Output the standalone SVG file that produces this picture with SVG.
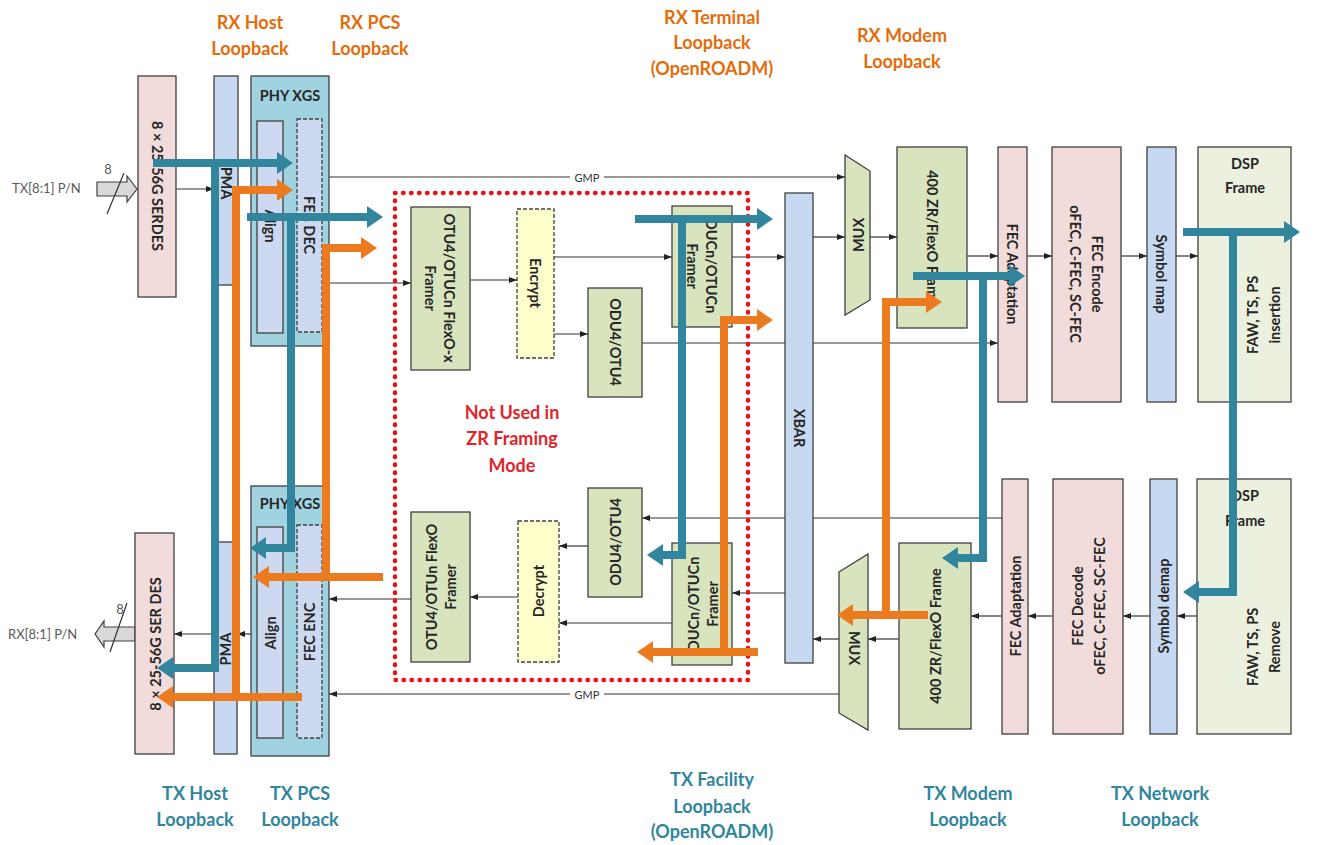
<svg xmlns="http://www.w3.org/2000/svg" width="1318" height="845" viewBox="0 0 1318 845">
<defs>
<style>
.bx{stroke:#404040;stroke-width:1.3}
.dsh{stroke-dasharray:4 2}
.pink{fill:#f2dcdb}.lb{fill:#c6d9f1}.lav{fill:#ccd9f0}.phy{fill:#a0d2e0}.grn{fill:#d7e4bd}.yel{fill:#ffffcc}.dsp{fill:#ebf1de}
.t{font-family:Lato,"Open Sans","Liberation Sans",sans-serif;font-weight:700;font-size:14.5px;fill:#262626;text-anchor:middle;dominant-baseline:central}
.lo{font-family:Lato,"Open Sans","Liberation Sans",sans-serif;font-weight:700;font-size:18px;fill:#e46c0a;text-anchor:middle;dominant-baseline:central}
.lt{font-family:Lato,"Open Sans","Liberation Sans",sans-serif;font-weight:700;font-size:18px;fill:#31859c;text-anchor:middle;dominant-baseline:central}
.nu{font-family:Lato,"Open Sans","Liberation Sans",sans-serif;font-weight:700;font-size:18px;fill:#e0252b;text-anchor:middle;dominant-baseline:central}
.sm{font-family:Lato,"Open Sans","Liberation Sans",sans-serif;font-size:13px;fill:#595959;dominant-baseline:central}
.gmp{font-family:Lato,"Open Sans","Liberation Sans",sans-serif;font-size:11px;fill:#333;text-anchor:middle;dominant-baseline:central}
.ln{stroke:#333;stroke-width:1.2;fill:none;marker-end:url(#a)}
.pl{stroke:#333;stroke-width:1.2;fill:none}
.blue{stroke:#31859c;stroke-width:8;fill:none;marker-end:url(#hb)}
.bl{stroke:#31859c;stroke-width:8;fill:none}
.org{stroke:#ec7a1e;stroke-width:8;fill:none;marker-end:url(#ho)}
.red{fill:none;stroke:#e8131a;stroke-width:4.5;stroke-dasharray:0.5 7.5;stroke-linecap:round}
</style>
<marker id="a" viewBox="0 0 8 6" refX="8" refY="3" markerWidth="8" markerHeight="6" markerUnits="userSpaceOnUse" orient="auto"><path d="M0,0 L8,3 L0,6 z" fill="#222"/></marker>
<marker id="hb" viewBox="0 0 16 22" refX="0" refY="11" markerWidth="16" markerHeight="22" markerUnits="userSpaceOnUse" orient="auto"><path d="M0,0 L16,11 L0,22 z" fill="#31859c"/></marker>
<marker id="ho" viewBox="0 0 16 22" refX="0" refY="11" markerWidth="16" markerHeight="22" markerUnits="userSpaceOnUse" orient="auto"><path d="M0,0 L16,11 L0,22 z" fill="#ec7a1e"/></marker>
</defs>
<rect width="1318" height="845" fill="#fff"/>

<g id="connectors">
<polygon points="97,182 127,182 127,176 137,189 127,202 127,196 97,196" fill="#d9d9d9" stroke="#404040" stroke-width="1.2"/>
<line x1="107" y1="214" x2="124" y2="173" class="pl"/>
<text x="108" y="169" class="sm" text-anchor="middle" font-size="12">8</text>
<text x="12" y="188" class="sm">TX[8:1] P/N</text>
<polygon points="135,627 104,627 104,621 95,634 104,647 104,641 135,641" fill="#d9d9d9" stroke="#404040" stroke-width="1.2"/>
<line x1="110" y1="652" x2="127" y2="603" class="pl"/>
<text x="120" y="609" class="sm" text-anchor="middle" font-size="12">8</text>
<text x="8" y="634" class="sm">RX[8:1] P/N</text>

<path d="M176,189 H214" class="ln"/>
<path d="M329,177 H845" class="ln"/>
<rect x="570" y="170" width="34" height="14" fill="#fff"/>
<text x="587" y="177" class="gmp">GMP</text>
<path d="M329,283 H411" class="ln"/>
<path d="M470,280 H517" class="ln"/>
<path d="M554,257 H672" class="ln"/>
<path d="M554,334 H588" class="ln"/>
<path d="M732,257 H785" class="ln"/>
<path d="M642,343 H998" class="ln"/>
<path d="M813,237 H845" class="ln"/>
<path d="M870,237 H897" class="ln"/>
<path d="M967,256 H998" class="ln"/>
<path d="M1027,256 H1052" class="ln"/>
<path d="M1121,256 H1147" class="ln"/>
<path d="M1176,256 H1198" class="ln"/>

<path d="M1197,616 H1177" class="ln"/>
<path d="M1150,616 H1123" class="ln"/>
<path d="M1053,616 H1028" class="ln"/>
<path d="M1002,616 H971" class="ln"/>
<path d="M899,639 H868" class="ln"/>
<path d="M839,639 H813" class="ln"/>
<path d="M1002,518 H642" class="ln"/>
<path d="M785,593 H732" class="ln"/>
<path d="M588,546 H559" class="ln"/>
<path d="M672,623 H559" class="ln"/>
<path d="M518,597 H470" class="ln"/>
<path d="M411,599 H329" class="ln"/>
<path d="M839,694 H329" class="ln"/>
<rect x="570" y="687" width="34" height="14" fill="#fff"/>
<text x="587" y="694" class="gmp">GMP</text>
<path d="M297,634 H283" class="ln"/>
<path d="M257,634 H237" class="ln"/>
<path d="M214,634 H174" class="ln"/>
</g>

<g id="serdes-tx"><rect x="138" y="76" width="38" height="221" class="bx pink"/><text class="t" transform="translate(157,186) rotate(90)">8 × 25-56G SERDES</text></g>
<g id="pma-tx"><rect x="214" y="76" width="24" height="209" class="bx lb"/><text class="t" transform="translate(226,183) rotate(90)">PMA</text></g>
<g id="phy-xgs-tx"><rect x="251" y="76" width="78" height="270" class="bx phy"/><text class="t" x="290" y="95">PHY XGS</text>
<rect x="257" y="121" width="26" height="212" class="bx lav"/><text class="t" transform="translate(270,226) rotate(90)">Align</text>
<rect x="297" y="119" width="25" height="213" class="bx dsh lav"/><text class="t" transform="translate(309.5,225) rotate(90)">FEC DEC</text></g>

<g id="serdes-rx"><rect x="135" y="533" width="39" height="221" class="bx pink"/><text class="t" transform="translate(155,644) rotate(-90)">8 × 25-56G SER DES</text></g>
<g id="pma-rx"><rect x="214" y="542" width="23" height="212" class="bx lb"/><text class="t" transform="translate(225.5,649) rotate(-90)">PMA</text></g>
<g id="phy-xgs-rx"><rect x="251" y="486" width="78" height="270" class="bx phy"/><text class="t" x="290" y="503">PHY XGS</text>
<rect x="257" y="527" width="26" height="211" class="bx lav"/><text class="t" transform="translate(270,633) rotate(-90)">Align</text>
<rect x="297" y="525" width="25" height="213" class="bx dsh lav"/><text class="t" transform="translate(309.5,632) rotate(-90)">FEC ENC</text></g>

<g id="framer-tx"><rect x="411" y="207" width="59" height="163" class="bx grn"/><text class="t" transform="translate(440.5,288) rotate(90)"><tspan x="0" y="-9.5">OTU4/OTUCn FlexO-x</tspan><tspan x="0" y="9.5">Framer</tspan></text></g>
<g id="encrypt"><rect x="517" y="209" width="37" height="149" class="bx dsh yel"/><text class="t" transform="translate(535.5,283) rotate(90)">Encrypt</text></g>
<g id="odu-tx"><rect x="588" y="288" width="54" height="109" class="bx grn"/><text class="t" transform="translate(615,342) rotate(90)">ODU4/OTU4</text></g>
<g id="ducn-tx"><rect x="672" y="206" width="60" height="121" class="bx grn"/><text class="t" transform="translate(702,266) rotate(90)"><tspan x="0" y="-9.5">DUCn/OTUCn</tspan><tspan x="0" y="9.5">Framer</tspan></text></g>

<g id="framer-rx"><rect x="411" y="512" width="59" height="150" class="bx grn"/><text class="t" transform="translate(440.5,587) rotate(-90)"><tspan x="0" y="-9.5">OTU4/OTUn FlexO</tspan><tspan x="0" y="9.5">Framer</tspan></text></g>
<g id="decrypt"><rect x="518" y="521" width="41" height="141" class="bx dsh yel"/><text class="t" transform="translate(538.5,591) rotate(-90)">Decrypt</text></g>
<g id="odu-rx"><rect x="588" y="488" width="54" height="109" class="bx grn"/><text class="t" transform="translate(615,542) rotate(-90)">ODU4/OTU4</text></g>
<g id="ducn-rx"><rect x="672" y="543" width="60" height="122" class="bx grn"/><text class="t" transform="translate(702,604) rotate(-90)"><tspan x="0" y="-9.5">DUCn/OTUCn</tspan><tspan x="0" y="9.5">Framer</tspan></text></g>

<g id="not-used"><rect x="395" y="193" width="353" height="487" class="red"/>
<text class="nu" x="512" y="412">Not Used in</text><text class="nu" x="512" y="438">ZR Framing</text><text class="nu" x="512" y="465">Mode</text></g>

<g id="xbar"><rect x="785" y="193" width="28" height="470" class="bx lb"/><text class="t" transform="translate(799,428) rotate(90)">XBAR</text></g>
<g id="mux-tx"><polygon points="845,155 870,171 870,300 845,315" class="bx grn"/><text class="t" font-size="17" transform="translate(858,235) rotate(-90)">MUX</text></g>
<g id="mux-rx"><polygon points="839,572 868,554 868,730 839,713" class="bx grn"/><text class="t" font-size="17" transform="translate(854,648) rotate(90)">MUX</text></g>

<g id="zr-tx"><rect x="897" y="147" width="70" height="181" class="bx grn"/><text class="t" transform="translate(932,238) rotate(90)">400 ZR/FlexO Frame</text></g>
<g id="fecad-tx"><rect x="998" y="147" width="29" height="255" class="bx pink"/><text class="t" transform="translate(1012.5,274) rotate(90)">FEC Adaptation</text></g>
<g id="fecenc"><rect x="1052" y="147" width="69" height="255" class="bx pink"/><text class="t" transform="translate(1086.5,274) rotate(90)"><tspan x="0" y="-11">FEC Encode</tspan><tspan x="0" y="11">oFEC, C-FEC, SC-FEC</tspan></text></g>
<g id="symmap"><rect x="1147" y="147" width="29" height="255" class="bx lb"/><text class="t" transform="translate(1161.5,274) rotate(90)">Symbol map</text></g>
<g id="dsp-tx"><rect x="1198" y="147" width="93" height="255" class="bx dsp"/><text class="t" x="1245" y="163" font-size="16">DSP</text><text class="t" x="1245" y="187" font-size="16">Frame</text>
<text class="t" transform="translate(1263,315) rotate(-90)"><tspan x="0" y="-11">FAW, TS, PS</tspan><tspan x="0" y="11">insertion</tspan></text></g>

<g id="zr-rx"><rect x="899" y="543" width="72" height="186" class="bx grn"/><text class="t" transform="translate(935,636) rotate(-90)">400 ZR/FlexO Frame</text></g>
<g id="fecad-rx"><rect x="1002" y="479" width="26" height="255" class="bx pink"/><text class="t" transform="translate(1015,606) rotate(-90)">FEC Adaptation</text></g>
<g id="fecdec"><rect x="1053" y="479" width="70" height="255" class="bx pink"/><text class="t" transform="translate(1088,606) rotate(-90)"><tspan x="0" y="-11">FEC Decode</tspan><tspan x="0" y="11">oFEC, C-FEC, SC-FEC</tspan></text></g>
<g id="symdemap"><rect x="1150" y="479" width="27" height="255" class="bx lb"/><text class="t" transform="translate(1163.5,606) rotate(-90)">Symbol demap</text></g>
<g id="dsp-rx"><rect x="1197" y="479" width="94" height="255" class="bx dsp"/><text class="t" x="1245" y="495" font-size="16">DSP</text><text class="t" x="1245" y="520" font-size="16">Frame</text>
<text class="t" transform="translate(1263,647) rotate(-90)"><tspan x="0" y="-11">FAW, TS, PS</tspan><tspan x="0" y="11">Remove</tspan></text></g>

<g id="loopbacks">
<path d="M153,163 H277" class="blue"/>
<path d="M215,163 V668 H173" class="blue"/>
<path d="M247,217 H367" class="blue"/>
<path d="M291,217 V548 H266" class="blue"/>
<path d="M635,219 H757" class="blue"/>
<path d="M682,219 V555 H663" class="blue"/>
<path d="M913,276 H1009" class="blue"/>
<path d="M983,276 V558 H958" class="blue"/>
<path d="M1183,232 H1284" class="blue"/>
<path d="M1233,232 V592 H1199" class="blue"/>
<path d="M236,701 V190 H277" class="org"/>
<path d="M302,697 H173" class="org"/>
<path d="M326,581 V248 H361" class="org"/>
<path d="M383,577 H269" class="org"/>
<path d="M724,656 V320 H757" class="org"/>
<path d="M758,652 H653" class="org"/>
<path d="M886,619 V302 H926" class="org"/>
<path d="M928,615 H853" class="org"/>
</g>

<g id="labels">
<text class="lo" x="250" y="22">RX Host</text><text class="lo" x="250" y="48">Loopback</text>
<text class="lo" x="370" y="22">RX PCS</text><text class="lo" x="370" y="48">Loopback</text>
<text class="lo" x="712" y="17">RX Terminal</text><text class="lo" x="712" y="42">Loopback</text><text class="lo" x="712" y="68">(OpenROADM)</text>
<text class="lo" x="902" y="35">RX Modem</text><text class="lo" x="902" y="61">Loopback</text>
<text class="lt" x="195" y="793">TX Host</text><text class="lt" x="195" y="819">Loopback</text>
<text class="lt" x="300" y="793">TX PCS</text><text class="lt" x="300" y="819">Loopback</text>
<text class="lt" x="712" y="779">TX Facility</text><text class="lt" x="712" y="806">Loopback</text><text class="lt" x="712" y="831">(OpenROADM)</text>
<text class="lt" x="968" y="793">TX Modem</text><text class="lt" x="968" y="819">Loopback</text>
<text class="lt" x="1160" y="793">TX Network</text><text class="lt" x="1160" y="819">Loopback</text>
</g>
</svg>
